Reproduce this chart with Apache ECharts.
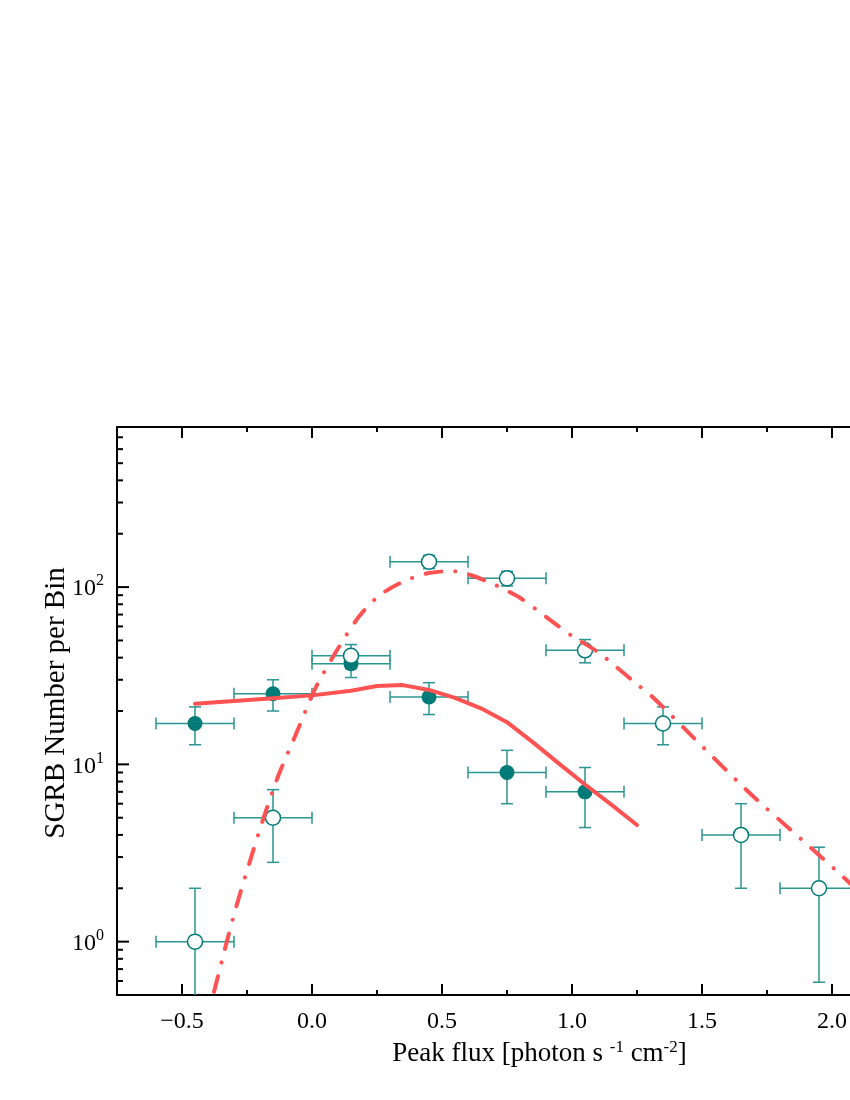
<!DOCTYPE html>
<html><head><meta charset="utf-8">
<script src="https://cdn.jsdelivr.net/npm/echarts@6/dist/echarts.min.js"></script>
<style>html,body{margin:0;padding:0;background:#fff}#c{width:850px;height:1100px}</style>
</head><body><div id="c"></div>
<script>
// ---- data ----
const binHalfWidth = 0.15;
const filledX = [-0.45, -0.15, 0.15, 0.45, 0.75, 1.05];
const filledY = [17, 25, 37, 24, 9, 7];
const filledLow = [12.9, 20.0, 30.9, 19.1, 6.0, 4.4];
const filledHigh = [21.1, 30.0, 43.1, 28.9, 12.0, 9.6];
const openX = [-0.45, -0.15, 0.15, 0.45, 0.75, 1.05, 1.35, 1.65, 1.95];
const openY = [1, 5, 41, 139, 112, 44, 17, 4, 2];
const openLow = [0, 2.8, 34.6, 127.2, 101.4, 37.4, 12.9, 2.0, 0.59];
const openHigh = [2, 7.2, 47.4, 150.8, 122.6, 50.6, 21.1, 6.0, 3.41];
const fitSolidX = [-0.45, -0.15, 0.0, 0.15, 0.25, 0.35, 0.45, 0.55, 0.65, 0.75, 0.85, 0.95, 1.05, 1.15, 1.25];
const fitSolidY = [22.0, 23.6, 24.5, 26.0, 27.7, 28.0, 26.3, 23.7, 20.7, 17.3, 13.3, 10.1, 7.7, 5.95, 4.55];
const fitDashX = [-0.42, -0.38, -0.335, -0.29, -0.24, -0.19, -0.13, -0.06, 0.0, 0.03, 0.1, 0.18, 0.26, 0.36, 0.45, 0.54, 0.61, 0.71, 0.8, 0.9, 1.0, 1.1, 1.235, 1.31, 1.49, 1.685, 1.88, 2.06, 2.25, 2.45];
const fitDashY = [0.3, 0.5, 0.91, 1.6, 2.8, 4.8, 8.6, 15, 24.5, 30, 45, 68, 90, 109, 120, 123, 117, 102, 87, 68, 53, 43, 29.5, 24, 13.1, 6.85, 3.8, 2.2, 1.2, 0.65];
const xMajorTicks = [-0.5, 0, 0.5, 1, 1.5, 2, 2.5];
const xMinorTicks = [-0.25, 0.25, 0.75, 1.25, 1.75, 2.25];
const yMajorTicks = [1, 10, 100];
const yMinorTicks = [0.6, 0.7, 0.8, 0.9, 2, 3, 4, 5, 6, 7, 8, 9, 20, 30, 40, 50, 60, 70, 80, 90, 200, 300, 400, 500, 600, 700];
const X_MIN = -0.75, X_MAX = 2.5, Y_MIN = 0.5, Y_MAX = 800;

// ---- styles ----
const TEAL = '#007b78';
const TEAL_BAR = '#2a9592';
const RED = '#ff5252';
const FONT = 'Liberation Serif';

function errData(xs, ys, lo, hi) {
  return xs.map((x, i) => [x, ys[i], x - binHalfWidth, x + binHalfWidth, lo[i], hi[i]]);
}
function renderErr(params, api) {
  const x = api.value(0), y = api.value(1);
  const xl = api.value(2), xh = api.value(3), yl = api.value(4), yh = api.value(5);
  const c = api.coord([x, y]);
  const pl = api.coord([xl, y]), ph = api.coord([xh, y]);
  const pt = api.coord([x, yh]);
  let pb, lowCap = true;
  if (yl > Y_MIN) pb = api.coord([x, yl]); else { pb = api.coord([x, Y_MIN]); lowCap = false; }
  const cap = 6;
  const st = { stroke: TEAL_BAR, lineWidth: 1.5, fill: null };
  const L = (x1, y1, x2, y2) => ({ type: 'line', shape: { x1, y1, x2, y2 }, style: st });
  const ch = [
    L(pl[0], c[1], ph[0], c[1]),
    L(c[0], pt[1], c[0], pb[1]),
    L(pl[0], c[1] - cap, pl[0], c[1] + cap),
    L(ph[0], c[1] - cap, ph[0], c[1] + cap),
    L(c[0] - cap, pt[1], c[0] + cap, pt[1])
  ];
  if (lowCap) ch.push(L(c[0] - cap, pb[1], c[0] + cap, pb[1]));
  return { type: 'group', children: ch };
}
function renderTicks(params, api) {
  const bottom = api.coord([0, Y_MIN])[1];
  const top = api.coord([0, Y_MAX])[1];
  const left = api.coord([X_MIN, 1])[0];
  const st = { stroke: '#000', lineWidth: 2 };
  const ch = [];
  const L = (x1, y1, x2, y2) => ch.push({ type: 'line', shape: { x1, y1, x2, y2 }, style: st });
  xMajorTicks.forEach(v => { const px = api.coord([v, 1])[0]; L(px, bottom, px, bottom - 11); L(px, top, px, top + 11); });
  xMinorTicks.forEach(v => { const px = api.coord([v, 1])[0]; L(px, bottom, px, bottom - 5); L(px, top, px, top + 5); });
  yMajorTicks.forEach(v => { const py = api.coord([0, v])[1]; L(left, py, left + 12, py); });
  yMinorTicks.forEach(v => { const py = api.coord([0, v])[1]; L(left, py, left + 6, py); });
  return { type: 'group', children: ch };
}
const isHalf = v => Math.abs(v * 2 - Math.round(v * 2)) < 1e-6;

const chart = echarts.init(document.getElementById('c'), null, { renderer: 'canvas' });
chart.setOption({
  backgroundColor: '#fff',
  animation: false,
  grid: { left: 117, top: 427, width: 845, height: 568, containLabel: false, outerBoundsMode: 'none' },
  xAxis: [{
    type: 'value', min: X_MIN, max: X_MAX, interval: 0.25, position: 'bottom',
    axisLine: { show: true, onZero: false, lineStyle: { color: '#000', width: 2 } },
    axisTick: { show: false }, splitLine: { show: false },
    axisLabel: { color: '#000', fontFamily: FONT, fontSize: 24, margin: 15,
      formatter: v => isHalf(v) ? v.toFixed(1).replace('-', '\u2212') : '' },
    name: 'Peak flux [photon s {sup|-1} cm{sup|-2}]', nameLocation: 'middle', nameGap: 44, nameMoveOverlap: false,
    nameTextStyle: { color: '#000', fontFamily: FONT, fontSize: 27, lineHeight: 30,
      rich: { sup: { fontFamily: FONT, fontSize: 17, lineHeight: 14, verticalAlign: 'top', color: '#000' } } }
  }, {
    type: 'value', min: X_MIN, max: X_MAX, interval: 0.25, position: 'top',
    axisLine: { show: true, onZero: false, lineStyle: { color: '#000', width: 2 } },
    axisTick: { show: false }, splitLine: { show: false }, axisLabel: { show: false }
  }],
  yAxis: {
    type: 'log', logBase: 10, min: Y_MIN, max: Y_MAX,
    axisLine: { show: true, onZero: false, lineStyle: { color: '#000', width: 2 } },
    axisTick: { show: false }, splitLine: { show: false }, minorTick: { show: false },
    axisLabel: {
      color: '#000', margin: 13,
      formatter: v => {
        const l = Math.log10(v), e = Math.round(l);
        if (Math.abs(l - e) > 1e-6) return '';
        return '{b|10}{sup|' + e + '}';
      },
      rich: {
        b: { fontFamily: FONT, fontSize: 24, lineHeight: 28, verticalAlign: 'bottom', color: '#000' },
        sup: { fontFamily: FONT, fontSize: 16, lineHeight: 14, verticalAlign: 'top', color: '#000' }
      }
    },
    name: 'SGRB Number per Bin', nameLocation: 'middle', nameGap: 46, nameMoveOverlap: false,
    nameTextStyle: { color: '#000', fontFamily: FONT, fontSize: 29, padding: [0, 0, 0, 16] }
  },
  series: [
    { type: 'custom', name: 'ticks', renderItem: renderTicks, data: [[0, 1]], clip: false, silent: true, z: 10 },
    { type: 'custom', name: 'errFilled', renderItem: renderErr, data: errData(filledX, filledY, filledLow, filledHigh), clip: true, z: 2 },
    { type: 'custom', name: 'errOpen', renderItem: renderErr, data: errData(openX, openY, openLow, openHigh), clip: true, z: 2 },
    { type: 'scatter', name: 'filled', data: filledX.map((x, i) => [x, filledY[i]]), symbol: 'circle', symbolSize: 15,
      itemStyle: { color: TEAL, opacity: 1 }, z: 3 },
    { type: 'scatter', name: 'open', data: openX.map((x, i) => [x, openY[i]]), symbol: 'circle', symbolSize: 15,
      itemStyle: { color: '#fff', borderColor: TEAL, borderWidth: 1.5, opacity: 1 }, z: 4 },
    { type: 'line', name: 'fitSolid', data: fitSolidX.map((x, i) => [x, fitSolidY[i]]), showSymbol: false, symbol: 'none',
      lineStyle: { color: RED, width: 4, join: 'round', cap: 'round' }, z: 5, clip: true },
    { type: 'line', name: 'fitDash', data: fitDashX.map((x, i) => [x, fitDashY[i]]), showSymbol: false, symbol: 'none', smooth: 0.25,
      lineStyle: { color: RED, width: 4, type: [16, 14, 0.1, 14], cap: 'round', join: 'round' }, z: 5, clip: true }
  ]
});
</script></body></html>
